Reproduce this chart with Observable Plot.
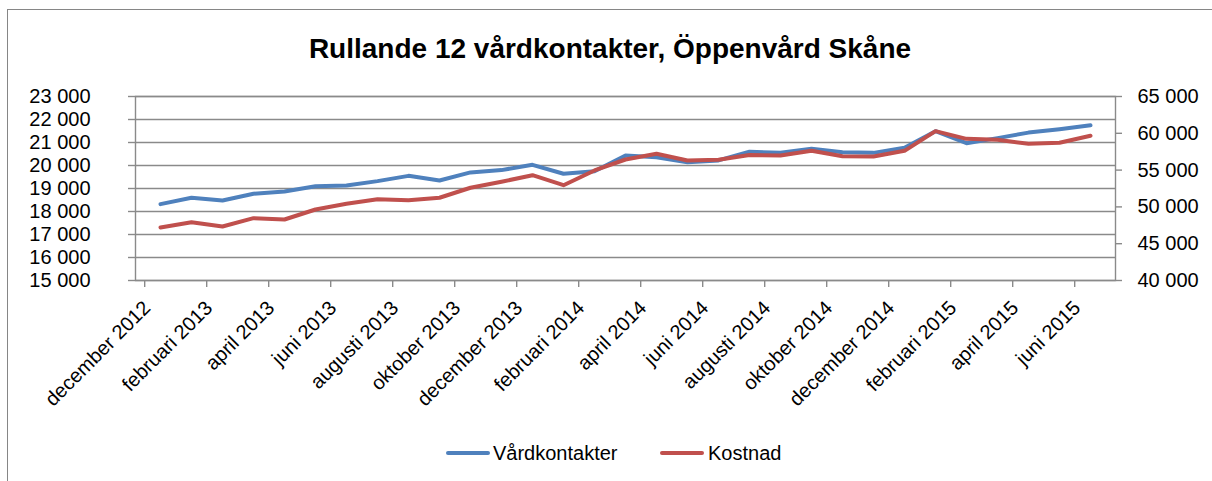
<!DOCTYPE html>
<html>
<head>
<meta charset="utf-8">
<script src="https://cdn.jsdelivr.net/npm/d3@7"></script>
<script src="https://cdn.jsdelivr.net/npm/@observablehq/plot@0.6"></script>
<style>
html, body { margin: 0; padding: 0; background: #fff; overflow: hidden; }
#wrap { position: relative; width: 1212px; height: 481px; font-family: "Liberation Sans", Arial, sans-serif; color: #000; }
#frame { position: absolute; left: 7px; top: 9px; width: 1215px; height: 600px; border: 1px solid #868686; box-sizing: border-box; pointer-events: none; }
#title { height: 80px; box-sizing: border-box; padding-top: 35px; padding-left: 8px; text-align: center; font-size: 28px; line-height: 28px; font-weight: bold; white-space: nowrap; }
#chart { height: 350px; }
#legend { position: relative; height: 51px; font-size: 20px; line-height: 20px; }
.lg-line { position: absolute; top: 21px; width: 44px; height: 4px; border-radius: 2px; }
.lg-text { position: absolute; top: 13px; white-space: nowrap; }
</style>
</head>
<body>
<div id="wrap">
  <div id="frame"></div>
  <div id="title">Rullande 12 vårdkontakter, Öppenvård Skåne</div>
  <div id="chart"></div>
  <div id="legend">
    <span class="lg-line" style="left:446px;background:#4F81BD"></span>
    <span class="lg-text" style="left:493px">Vårdkontakter</span>
    <span class="lg-line" style="left:660px;background:#C0504D"></span>
    <span class="lg-text" style="left:708px">Kostnad</span>
  </div>
</div>
<script>
// ---- Data ----
const months = [
  "december 2012",
  "januari 2013", "februari 2013", "mars 2013", "april 2013", "maj 2013", "juni 2013",
  "juli 2013", "augusti 2013", "september 2013", "oktober 2013", "november 2013", "december 2013",
  "januari 2014", "februari 2014", "mars 2014", "april 2014", "maj 2014", "juni 2014",
  "juli 2014", "augusti 2014", "september 2014", "oktober 2014", "november 2014", "december 2014",
  "januari 2015", "februari 2015", "mars 2015", "april 2015", "maj 2015", "juni 2015"
];
const vardkontakter = [
  18320, 18600, 18480, 18770, 18870, 19100, 19130, 19320, 19550, 19350, 19700, 19800, 20030,
  19640, 19750, 20430, 20360, 20140, 20220, 20600, 20550, 20730, 20580, 20550, 20770,
  21490, 20970, 21190, 21430, 21580, 21750
];
const kostnad = [
  47200, 47920, 47340, 48470, 48290, 49650, 50420, 51050, 50910, 51240, 52600, 53410, 54310,
  52950, 54950, 56440, 57220, 56300, 56400, 57050, 56980, 57620, 56890, 56850, 57620,
  60290, 59250, 59120, 58570, 58710, 59660
];
const leftTicks = [15000, 16000, 17000, 18000, 19000, 20000, 21000, 22000, 23000];
const rightTicks = [40000, 45000, 50000, 55000, 60000, 65000];
const seriesNames = ["Vårdkontakter", "Kostnad"];
const colors = ["#4F81BD", "#C0504D"];

// ---- Derived ----
const L0 = leftTicks[0], L1 = leftTicks[leftTicks.length - 1];
const R0 = rightTicks[0], R1 = rightTicks[rightTicks.length - 1];
const rightToLeft = v => L0 + (v - R0) * (L1 - L0) / (R1 - R0);
const leftToRight = v => R0 + (v - L0) * (R1 - R0) / (L1 - L0);

const data = months.map((m, i) => ({month: m, vard: vardkontakter[i], kost: kostnad[i]}));
const labelMonths = months.filter((d, i) => i % 2 === 0);

const locale = d3.formatLocale({decimal: ",", thousands: "\u00a0", grouping: [3], currency: ["", " kr"]});
const fmt = locale.format(",.0f");

const W = 1212, H = 350;
const mL = 135, mR = 97, mT = 16, mB = 150;
const plotW = W - mL - mR, plotH = H - mT - mB;
const step = plotW / months.length;
const gray = "#8a8a8a";

const chart = Plot.plot({
  width: W, height: H,
  marginLeft: mL, marginRight: mR, marginTop: mT, marginBottom: mB,
  style: {fontFamily: '"Liberation Sans", Arial, sans-serif', fontSize: "20px", color: "#000", background: "transparent", overflow: "visible"},
  x: {type: "point", domain: months, padding: 0.5, label: null},
  y: {domain: [L0, L1], label: null},
  marks: [
    // gridlines
    Plot.ruleY(leftTicks, {stroke: gray, strokeWidth: 1.4}),
    Plot.frame({stroke: gray, strokeWidth: 1.4}),
    // left axis tick marks
    Plot.ruleY(leftTicks, {stroke: gray, strokeWidth: 1.4, insetLeft: -7, insetRight: plotW}),
    // right axis tick marks
    Plot.ruleY(rightTicks.map(rightToLeft), {stroke: gray, strokeWidth: 1.4, insetLeft: plotW, insetRight: -7}),
    // x axis tick marks (between categories)
    Plot.ruleX(labelMonths, {stroke: gray, strokeWidth: 1.4, dx: -step / 2, insetTop: plotH, insetBottom: -7}),
    // axes labels
    Plot.axisY(leftTicks, {anchor: "left", tickSize: 0, tickPadding: 45, tickFormat: fmt, fontSize: 20, label: null}),
    Plot.axisY(rightTicks.map(rightToLeft), {anchor: "right", tickSize: 0, tickPadding: 22, tickFormat: v => fmt(Math.round(leftToRight(v))), fontSize: 20, label: null}),
    Plot.axisX(labelMonths, {tickSize: 0, tickRotate: -45, tickPadding: 24, dx: -13.5, fontSize: 20, label: null}),
    // series
    Plot.line(data, {x: "month", y: "vard", stroke: colors[0], strokeWidth: 4, strokeLinejoin: "round", strokeLinecap: "round"}),
    Plot.line(data, {x: "month", y: d => rightToLeft(d.kost), stroke: colors[1], strokeWidth: 4, strokeLinejoin: "round", strokeLinecap: "round"})
  ]
});
document.getElementById("chart").appendChild(chart);
</script>
</body>
</html>
